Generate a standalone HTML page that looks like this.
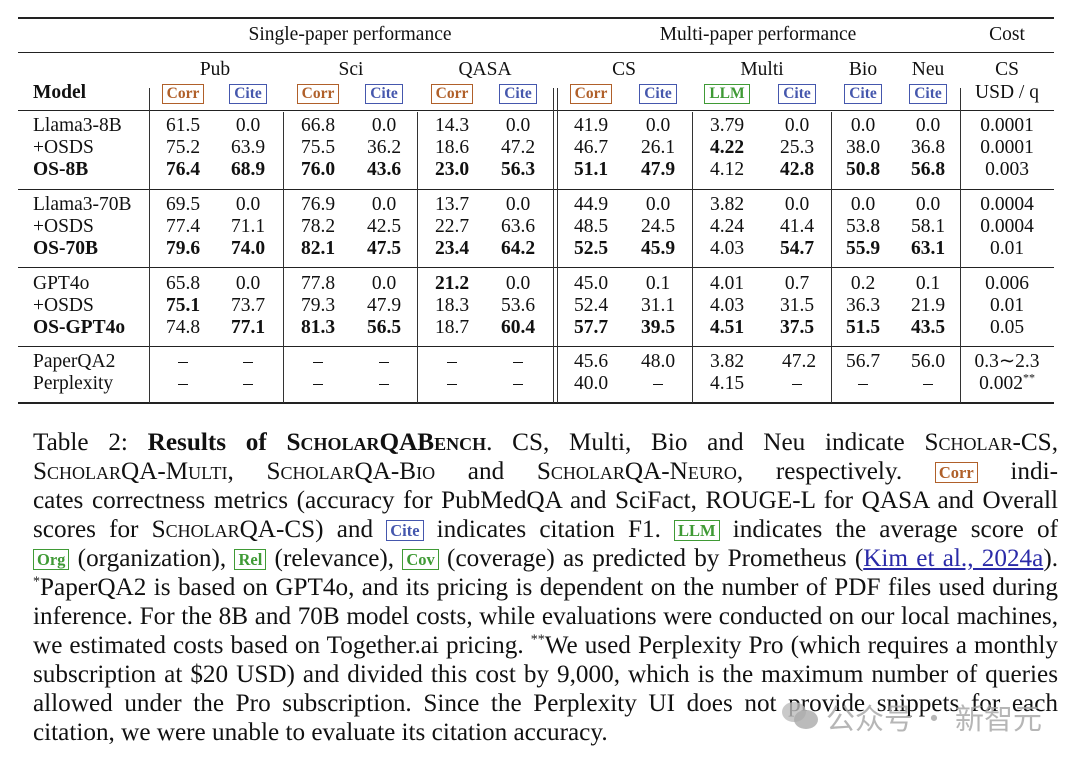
<!DOCTYPE html>
<html><head><meta charset="utf-8"><style>
body{margin:0;background:#fff;width:1080px;height:766px;position:relative;overflow:hidden;font-family:"Liberation Serif",serif;color:#111}
.a{position:absolute}
.h{position:absolute;left:18px;width:1036px;background:#222}
.v{position:absolute;width:1px;background:#333}
.r{position:absolute;left:0;width:1080px;height:22px;font-size:19.5px;line-height:22px}
.r span{position:absolute;width:80px;margin-left:-40px;text-align:center}
.r span.m{margin-left:0;text-align:left;width:120px}
.b{font-weight:bold}
.bd{display:inline-block;border:1.5px solid;font-weight:bold;font-size:15.5px;line-height:18px;padding:0 4px;font-style:normal}
.co{color:#b0602a;border-color:#b0602a}
.ci{color:#4557ad;border-color:#4557ad}
.ll{color:#3f9a35;border-color:#3f9a35}
.cap{position:absolute;left:33px;width:1025px;font-size:25.2px;line-height:29px;height:29px;text-align:justify;text-align-last:justify;white-space:nowrap}
.sc{font-variant:small-caps}
.cap .bd{font-size:16.5px;line-height:19px;padding:0 3px;vertical-align:1px}
sup{line-height:0;font-size:14px}
</style></head><body>
<div class="h" style="top:17px;height:2px"></div>
<div class="h" style="top:52px;height:1px"></div>
<div class="h" style="top:110px;height:1px"></div>
<div class="h" style="top:189px;height:1px"></div>
<div class="h" style="top:267px;height:1px"></div>
<div class="h" style="top:346px;height:1px"></div>
<div class="h" style="top:402px;height:2px"></div>
<div class="v" style="left:149px;top:88px;height:315px"></div>
<div class="v" style="left:553px;top:88px;height:315px"></div>
<div class="v" style="left:557px;top:88px;height:315px"></div>
<div class="v" style="left:960px;top:88px;height:315px"></div>
<div class="v" style="left:283px;top:112px;height:291px"></div>
<div class="v" style="left:417px;top:112px;height:291px"></div>
<div class="v" style="left:692px;top:112px;height:291px"></div>
<div class="v" style="left:831px;top:112px;height:291px"></div>

<div class="r" style="top:24px"><span style="left:350px;width:300px;margin-left:-150px">Single-paper performance</span><span style="left:758px;width:300px;margin-left:-150px">Multi-paper performance</span><span style="left:1007px">Cost</span></div>
<div class="r" style="top:59px"><span style="left:215px">Pub</span><span style="left:351px">Sci</span><span style="left:485px">QASA</span><span style="left:624px">CS</span><span style="left:762px">Multi</span><span style="left:863px">Bio</span><span style="left:928px">Neu</span><span style="left:1007px">CS</span></div>
<div class="r" style="top:82px"><span class="m b" style="left:33px">Model</span>
<span style="left:183px"><i class="bd co">Corr</i></span><span style="left:248px"><i class="bd ci">Cite</i></span>
<span style="left:318px"><i class="bd co">Corr</i></span><span style="left:384px"><i class="bd ci">Cite</i></span>
<span style="left:452px"><i class="bd co">Corr</i></span><span style="left:518px"><i class="bd ci">Cite</i></span>
<span style="left:591px"><i class="bd co">Corr</i></span><span style="left:658px"><i class="bd ci">Cite</i></span>
<span style="left:727px"><i class="bd ll">LLM</i></span><span style="left:797px"><i class="bd ci">Cite</i></span>
<span style="left:863px"><i class="bd ci">Cite</i></span><span style="left:928px"><i class="bd ci">Cite</i></span>
<span style="left:1007px">USD / q</span></div>

<div class="r" style="top:115px"><span class="m" style="left:33px">Llama3-8B</span><span style="left:183px">61.5</span><span style="left:248px">0.0</span><span style="left:318px">66.8</span><span style="left:384px">0.0</span><span style="left:452px">14.3</span><span style="left:518px">0.0</span><span style="left:591px">41.9</span><span style="left:658px">0.0</span><span style="left:727px">3.79</span><span style="left:797px">0.0</span><span style="left:863px">0.0</span><span style="left:928px">0.0</span><span style="left:1007px">0.0001</span></div>
<div class="r" style="top:137px"><span class="m" style="left:33px">+OSDS</span><span style="left:183px">75.2</span><span style="left:248px">63.9</span><span style="left:318px">75.5</span><span style="left:384px">36.2</span><span style="left:452px">18.6</span><span style="left:518px">47.2</span><span style="left:591px">46.7</span><span style="left:658px">26.1</span><span class="b" style="left:727px">4.22</span><span style="left:797px">25.3</span><span style="left:863px">38.0</span><span style="left:928px">36.8</span><span style="left:1007px">0.0001</span></div>
<div class="r b" style="top:159px"><span class="m" style="left:33px">OS-8B</span><span style="left:183px">76.4</span><span style="left:248px">68.9</span><span style="left:318px">76.0</span><span style="left:384px">43.6</span><span style="left:452px">23.0</span><span style="left:518px">56.3</span><span style="left:591px">51.1</span><span style="left:658px">47.9</span><span style="left:727px;font-weight:normal">4.12</span><span style="left:797px">42.8</span><span style="left:863px">50.8</span><span style="left:928px">56.8</span><span style="left:1007px;font-weight:normal">0.003</span></div>

<div class="r" style="top:194px"><span class="m" style="left:33px">Llama3-70B</span><span style="left:183px">69.5</span><span style="left:248px">0.0</span><span style="left:318px">76.9</span><span style="left:384px">0.0</span><span style="left:452px">13.7</span><span style="left:518px">0.0</span><span style="left:591px">44.9</span><span style="left:658px">0.0</span><span style="left:727px">3.82</span><span style="left:797px">0.0</span><span style="left:863px">0.0</span><span style="left:928px">0.0</span><span style="left:1007px">0.0004</span></div>
<div class="r" style="top:216px"><span class="m" style="left:33px">+OSDS</span><span style="left:183px">77.4</span><span style="left:248px">71.1</span><span style="left:318px">78.2</span><span style="left:384px">42.5</span><span style="left:452px">22.7</span><span style="left:518px">63.6</span><span style="left:591px">48.5</span><span style="left:658px">24.5</span><span style="left:727px">4.24</span><span style="left:797px">41.4</span><span style="left:863px">53.8</span><span style="left:928px">58.1</span><span style="left:1007px">0.0004</span></div>
<div class="r b" style="top:238px"><span class="m" style="left:33px">OS-70B</span><span style="left:183px">79.6</span><span style="left:248px">74.0</span><span style="left:318px">82.1</span><span style="left:384px">47.5</span><span style="left:452px">23.4</span><span style="left:518px">64.2</span><span style="left:591px">52.5</span><span style="left:658px">45.9</span><span style="left:727px;font-weight:normal">4.03</span><span style="left:797px">54.7</span><span style="left:863px">55.9</span><span style="left:928px">63.1</span><span style="left:1007px;font-weight:normal">0.01</span></div>

<div class="r" style="top:273px"><span class="m" style="left:33px">GPT4o</span><span style="left:183px">65.8</span><span style="left:248px">0.0</span><span style="left:318px">77.8</span><span style="left:384px">0.0</span><span class="b" style="left:452px">21.2</span><span style="left:518px">0.0</span><span style="left:591px">45.0</span><span style="left:658px">0.1</span><span style="left:727px">4.01</span><span style="left:797px">0.7</span><span style="left:863px">0.2</span><span style="left:928px">0.1</span><span style="left:1007px">0.006</span></div>
<div class="r" style="top:295px"><span class="m" style="left:33px">+OSDS</span><span class="b" style="left:183px">75.1</span><span style="left:248px">73.7</span><span style="left:318px">79.3</span><span style="left:384px">47.9</span><span style="left:452px">18.3</span><span style="left:518px">53.6</span><span style="left:591px">52.4</span><span style="left:658px">31.1</span><span style="left:727px">4.03</span><span style="left:797px">31.5</span><span style="left:863px">36.3</span><span style="left:928px">21.9</span><span style="left:1007px">0.01</span></div>
<div class="r b" style="top:317px"><span class="m" style="left:33px">OS-GPT4o</span><span style="left:183px;font-weight:normal">74.8</span><span style="left:248px">77.1</span><span style="left:318px">81.3</span><span style="left:384px">56.5</span><span style="left:452px;font-weight:normal">18.7</span><span style="left:518px">60.4</span><span style="left:591px">57.7</span><span style="left:658px">39.5</span><span style="left:727px">4.51</span><span style="left:797px">37.5</span><span style="left:863px">51.5</span><span style="left:928px">43.5</span><span style="left:1007px;font-weight:normal">0.05</span></div>

<div class="r" style="top:351px"><span class="m" style="left:33px">PaperQA2</span><span style="left:183px">–</span><span style="left:248px">–</span><span style="left:318px">–</span><span style="left:384px">–</span><span style="left:452px">–</span><span style="left:518px">–</span><span style="left:591px">45.6</span><span style="left:658px">48.0</span><span style="left:727px">3.82</span><span style="left:799px">47.2</span><span style="left:863px">56.7</span><span style="left:928px">56.0</span><span style="left:1007px">0.3∼2.3</span></div>
<div class="r" style="top:373px"><span class="m" style="left:33px">Perplexity</span><span style="left:183px">–</span><span style="left:248px">–</span><span style="left:318px">–</span><span style="left:384px">–</span><span style="left:452px">–</span><span style="left:518px">–</span><span style="left:591px">40.0</span><span style="left:658px">–</span><span style="left:727px">4.15</span><span style="left:797px">–</span><span style="left:863px">–</span><span style="left:928px">–</span><span style="left:1007px">0.002<sup style="font-size:12px">**</sup></span></div>

<div class="cap" style="top:428px">Table 2: <b>Results of <span class="sc">ScholarQABench</span></b>. CS, Multi, Bio and Neu indicate <span class="sc">Scholar-CS</span>,</div>
<div class="cap" style="top:457px"><span class="sc">ScholarQA-Multi</span>, <span class="sc">ScholarQA-Bio</span> and <span class="sc">ScholarQA-Neuro</span>, respectively. <span class="bd co">Corr</span> indi-</div>
<div class="cap" style="top:486px">cates correctness metrics (accuracy for PubMedQA and SciFact, ROUGE-L for QASA and Overall</div>
<div class="cap" style="top:515px">scores for <span class="sc">ScholarQA-CS</span>) and <span class="bd ci">Cite</span> indicates citation F1. <span class="bd ll">LLM</span> indicates the average score of</div>
<div class="cap" style="top:544px"><span class="bd ll">Org</span> (organization), <span class="bd ll">Rel</span> (relevance), <span class="bd ll">Cov</span> (coverage) as predicted by Prometheus (<span style="color:#2a2aa8;text-decoration:underline">Kim et al., 2024a</span>).</div>
<div class="cap" style="top:573px"><sup>*</sup>PaperQA2 is based on GPT4o, and its pricing is dependent on the number of PDF files used during</div>
<div class="cap" style="top:602px">inference. For the 8B and 70B model costs, while evaluations were conducted on our local machines,</div>
<div class="cap" style="top:631px">we estimated costs based on Together.ai pricing. <sup>**</sup>We used Perplexity Pro (which requires a monthly</div>
<div class="cap" style="top:660px">subscription at $20 USD) and divided this cost by 9,000, which is the maximum number of queries</div>
<div class="cap" style="top:689px">allowed under the Pro subscription. Since the Perplexity UI does not provide snippets for each</div>
<div class="cap" style="top:718px;text-align-last:left">citation, we were unable to evaluate its citation accuracy.</div>

<div class="a" style="left:782px;top:700px;width:38px;height:30px;">
<div class="a" style="left:0;top:2px;width:24px;height:20px;border-radius:50%;background:#bbb;opacity:.8"></div>
<div class="a" style="left:12px;top:10px;width:24px;height:19px;border-radius:50%;background:#aaa;opacity:.8"></div>
</div>
<div class="a" style="left:826px;top:700px;font-family:'Noto Sans CJK SC',sans-serif;font-size:29px;line-height:34px;color:#aaa;opacity:.85">公众号 · 新智元</div>
</body></html>
